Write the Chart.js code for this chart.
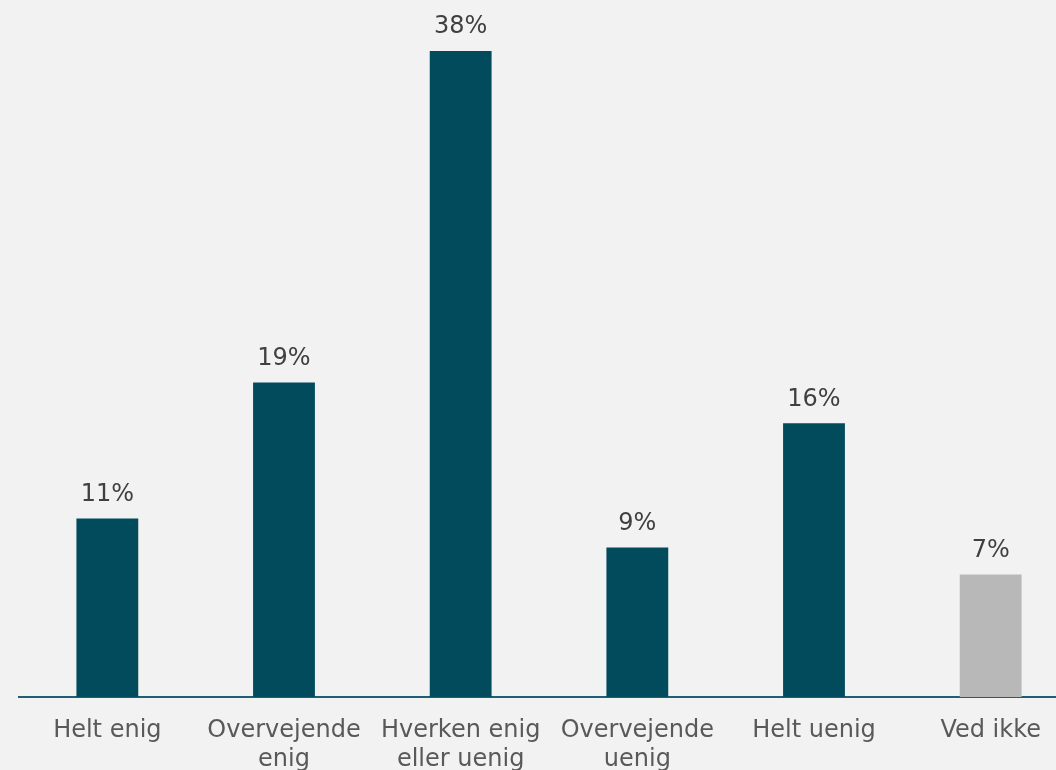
<!DOCTYPE html>
<html>
<head>
<meta charset="utf-8">
<script src="https://cdn.jsdelivr.net/npm/chart.js@4/dist/chart.umd.min.js"></script>
<style>
  html, body { margin: 0; padding: 0; background: #f2f2f2; overflow: hidden; }
  #wrap { width: 1056px; height: 770px; overflow: hidden; }
  canvas { display: block; }
</style>
</head>
<body>
<div id="wrap"><canvas id="chart" width="1080" height="770"></canvas></div>
<script>
const categories = [
    'Helt enig',
    ['Overvejende', 'enig'],
    ['Hverken enig', 'eller uenig'],
    ['Overvejende', 'uenig'],
    'Helt uenig',
    'Ved ikke'
];
const shares = [10.5, 18.5, 38, 8.8, 16.1, 7.2];
const barColors = ['#024b5d', '#024b5d', '#024b5d', '#024b5d', '#024b5d', '#b8b8b8'];

// percentage labels above the bars
const valueLabels = {
    id: 'valueLabels',
    afterDatasetsDraw(chart) {
        const ctx = chart.ctx;
        const meta = chart.getDatasetMeta(0);
        ctx.save();
        ctx.font = '24px "DejaVu Sans", Verdana, sans-serif';
        ctx.fillStyle = '#404040';
        ctx.textAlign = 'center';
        ctx.textBaseline = 'middle';
        meta.data.forEach((bar, i) => {
            ctx.fillText(Math.round(shares[i]) + '%', bar.x, bar.y - 24);
        });
        ctx.restore();
    }
};

new Chart(document.getElementById('chart'), {
    type: 'bar',
    data: {
        labels: categories,
        datasets: [{
            data: shares,
            backgroundColor: barColors,
            categoryPercentage: 1,
            barPercentage: 0.35
        }]
    },
    options: {
        responsive: false,
        animation: false,
        layout: { padding: { top: 17, left: 19, right: 1, bottom: 0 } },
        plugins: { legend: { display: false }, tooltip: { enabled: false } },
        scales: {
            y: { display: false, min: 0, max: 40 },
            x: {
                grid: { display: false },
                border: { display: true, color: '#1f5f73', width: 2 },
                ticks: {
                    padding: 11,
                    color: '#595959',
                    maxRotation: 0,
                    autoSkip: false,
                    font: { family: '"DejaVu Sans", Verdana, sans-serif', size: 24, lineHeight: 1.22 }
                },
                afterFit(scale) { scale.height = 73; }
            }
        }
    },
    plugins: [valueLabels]
});
</script>
</body>
</html>
